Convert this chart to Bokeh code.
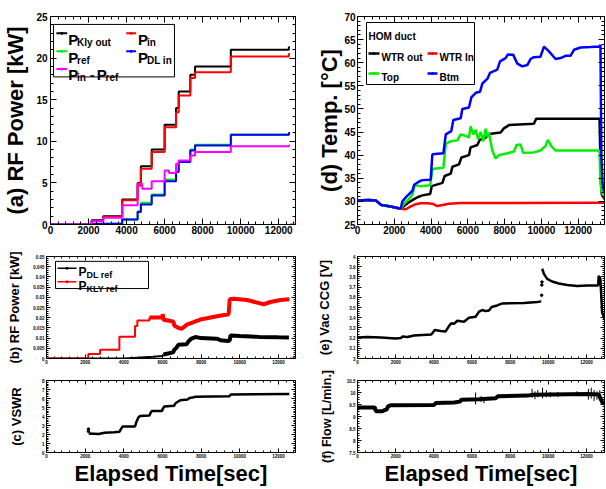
from bokeh.plotting import figure
from bokeh.layouts import row, column
from bokeh.models import LinearAxis, FixedTicker, Range1d
from bokeh.embed import file_html
from bokeh.resources import INLINE
from bokeh.core.properties import value

FONT = "Liberation Sans"

# ---------------- data ----------------
X_TICKS = [0, 2000, 4000, 6000, 8000, 10000, 12000]

# (a) RF power, step series [kW]
A_T = [0, 2160, 2770, 3770, 4580, 4750, 5320, 6000, 6600, 6740, 7350, 7600, 9480, 12530, 12590]
A_KLY = [0, 0.5, 1.0, 3.0, 5.0, 7.0, 9.0, 12.0, 14.0, 16.0, 18.0, 19.0, 21.0, 21.3, 21.3]
A_PIN = [0, 0.4, 0.9, 2.9, 4.7, 6.7, 8.7, 11.7, 13.5, 15.5, 17.6, 18.3, 20.2, 20.5, 20.5]
A_PREF = [0, 0.05, 0.1, 0.6, 1.6, 2.6, 3.6, 5.4, 6.4, 7.6, 9.0, 9.6, 10.8, 11.0, 11.0]
A_PDL = [0, 0.05, 0.1, 0.6, 1.5, 2.4, 3.5, 5.2, 6.3, 7.5, 8.9, 9.5, 10.8, 11.0, 11.0]
A_TD = [0, 2160, 2770, 3770, 4580, 4820, 5320, 6000, 6230, 6600, 6740, 7350, 7600, 9480, 12530, 12590]
A_DIFF = [0, 0.4, 0.8, 2.3, 4.9, 4.3, 5.2, 6.5, 6.2, 7.3, 7.7, 8.3, 8.7, 9.4, 9.5, 9.5]
A_OFF_T = [12600, 12880]   # RF off: all power readings back at zero
A_OFF = [0, 0]
A_YTICKS = [0, 5, 10, 15, 20, 25]

# (b) reflected power [kW]
B_KLY_T = [0, 2160, 2770, 3770, 4580, 4700, 5320]
B_KLY_S = [0, 0.0022, 0.0043, 0.0107, 0.0159, 0.0186, 0.0201]
B_KLY_X = [5320, 6000, 6010, 6050, 6300, 6570, 6605, 6830, 7000, 7262, 7608, 7953, 8299, 8818,
           9423, 9475, 9682, 10374, 10893, 11239, 11584, 12103, 12560]
B_KLY_Y = [0.0201, 0.0201, 0.0218, 0.0190, 0.0186, 0.0180, 0.0162, 0.0150, 0.0146, 0.0166, 0.0178,
           0.0191, 0.0197, 0.0207, 0.0217, 0.0290, 0.0293, 0.0287, 0.0274, 0.0266, 0.0277, 0.0287,
           0.0290]
B_OFF_X = [12600, 12880]
B_OFF = [0, 0]
B_DL_X1 = [0, 4000, 4500, 5500, 6000, 6050]
B_DL_Y1 = [0, 0, 0.0003, 0.0008, 0.0012, 0.002]
B_DL_X2 = [6050, 6550, 6620, 6700, 6830, 7250, 7350, 7500, 7700, 8000, 8800, 9000, 9400, 9480,
           9520, 10000, 11000, 12000, 12540]
B_DL_Y2 = [0.002, 0.003, 0.0045, 0.005, 0.0068, 0.007, 0.0085, 0.0098, 0.0105, 0.0100, 0.0097,
           0.0090, 0.0086, 0.0090, 0.0113, 0.0110, 0.0106, 0.0104, 0.0103]
B_YTICKS = [0, 0.005, 0.01, 0.015, 0.02, 0.025, 0.03, 0.035, 0.04, 0.045, 0.05]
B_YLABELS = ["0", "0.005", "0.01", "0.015", "0.02", "0.025", "0.03", "0.035", "0.04", "0.045", "0.05"]

# (c) VSWR
C_DOT_X = [2170, 2170]
C_DOT_Y = [2.6, 2.35]
C_X = [2180, 2700, 3000, 3500, 3770, 3850, 3940, 4580, 4650, 4750, 4840, 5325, 5380, 5450, 5965,
       6030, 6085, 6605, 6650, 6690, 6915, 7300, 7400, 7550, 7700, 9450, 9550, 12560]
C_Y = [2.1, 2.05, 2.2, 2.25, 2.3, 2.6, 2.9, 2.9, 3.4, 3.9, 4.05, 4.1, 4.4, 4.6, 4.6, 4.9, 5.1,
       5.2, 5.4, 5.5, 5.8, 5.9, 6.05, 6.1, 6.2, 6.25, 6.45, 6.5]
C_YTICKS = [0, 1, 2, 3, 4, 5, 6, 7, 8]

# (d) HOM duct temperatures [degC]
D_X_OUT = [0, 600, 1000, 1300, 1800, 2350, 2530, 2800, 3080, 3260, 3530, 3950, 4040, 4620, 4740,
           5070, 5160, 5520, 5650, 6060, 6150, 6520, 6640, 6970, 7150, 7780, 7960, 8240, 9590,
           9720, 13160, 13230, 13280, 13430]
D_OUT = [30.2, 30.3, 30.2, 29.2, 28.9, 28.4, 29.0, 29.8, 30.5, 30.9, 31.3, 31.6, 33.3, 34.0, 35.5,
         36.0, 37.5, 38.0, 39.5, 40.0, 41.7, 42.2, 43.3, 43.8, 44.6, 44.9, 45.8, 46.5, 46.8, 47.9,
         47.9, 35.0, 31.5, 30.5]
D_X_IN = [0, 600, 1000, 1300, 1800, 2350, 2620, 2900, 3170, 3440, 3800, 4070, 4340, 4620, 4980,
          5610, 13430]
D_IN = [30.2, 30.3, 30.2, 29.2, 28.9, 28.4, 28.3, 28.9, 29.4, 29.6, 29.6, 29.5, 29.0, 29.2, 29.5,
        29.65, 29.7]
D_X_TOP = [0, 600, 1000, 1300, 1800, 2350, 2530, 2800, 2990, 3110, 3440, 3950, 4070, 4670, 4800,
           5070, 5430, 5610, 5880, 6060, 6150, 6300, 6430, 6550, 6700, 6840, 6970, 7060, 7150,
           7330, 7510, 7690, 8150, 8510, 8650, 8870, 9010, 9590, 9950, 10230, 10350, 10530,
           10770, 11400, 13160, 13210, 13260, 13320, 13430]
D_TOP = [30.2, 30.3, 30.2, 29.2, 28.9, 28.4, 29.5, 30.5, 31.5, 33.5, 33.3, 33.5, 37.0, 37.3, 42.5,
         43.0, 43.2, 44.5, 44.2, 43.8, 46.2, 44.5, 45.5, 43.5, 45.0, 43.0, 45.7, 44.0, 44.8, 41.0,
         39.3, 40.0, 40.4, 40.8, 42.2, 42.3, 40.5, 40.6, 41.0, 42.0, 43.3, 42.0, 41.0, 41.0, 41.0,
         34.0, 32.5, 31.6, 30.9]
D_X_BTM = [0, 600, 1000, 1300, 1800, 2350, 2440, 2700, 2990, 3080, 3350, 3530, 3980, 4070, 4670,
           4800, 5100, 5210, 5610, 5700, 6060, 6190, 6430, 6660, 6790, 7060, 7200, 7600, 7750,
           8050, 8180, 8470, 8690, 8960, 9230, 9410, 9590, 9950, 10140, 10400, 10770, 11040,
           11310, 11580, 11770, 12130, 12670, 13160, 13210, 13260, 13320, 13430]
D_BTM = [30.2, 30.3, 30.2, 29.2, 28.9, 28.4, 30.0, 31.2, 32.3, 33.6, 34.3, 34.6, 34.7, 40.2, 40.4,
         44.5, 45.2, 47.6, 48.0, 50.0, 50.3, 52.5, 53.5, 53.7, 55.5, 56.5, 57.8, 58.5, 60.3, 61.0,
         61.8, 61.7, 59.8, 59.2, 59.5, 60.8, 61.2, 61.3, 63.5, 62.5, 60.8, 61.0, 61.5, 61.5, 62.8,
         63.3, 63.4, 63.5, 63.9, 40.0, 34.0, 31.8]
D_YTICKS = [25, 30, 35, 40, 45, 50, 55, 60, 65, 70]

# (e) vacuum CCG [V]
E_X1 = [0, 520, 1220, 2000, 2270, 2350, 2620, 2960, 3400, 3870, 4050, 4360, 4620, 4800, 4920,
        5060, 5230, 5580, 5840, 6190, 6370, 6540, 6710, 6890, 7030, 7320, 7590, 8720, 9420, 9630]
E_Y1 = [3.205, 3.21, 3.205, 3.195, 3.20, 3.215, 3.21, 3.225, 3.23, 3.235, 3.28, 3.27, 3.265, 3.32,
        3.345, 3.34, 3.37, 3.36, 3.40, 3.41, 3.46, 3.475, 3.465, 3.47, 3.505, 3.52, 3.54, 3.545,
        3.555, 3.56]
E_DOT_X = [9650, 9660, 9670]
E_DOT_Y = [3.62, 3.72, 3.75]
E_X2 = [9680, 9770, 9940, 10200, 10550, 10990, 11510, 12030, 12610, 12640, 12730, 12820, 12945]
E_Y2 = [3.88, 3.83, 3.78, 3.755, 3.735, 3.72, 3.71, 3.715, 3.715, 3.81, 3.78, 3.45, 3.39]
E_YTICKS = [3.0, 3.1, 3.2, 3.3, 3.4, 3.5, 3.6, 3.7, 3.8, 3.9, 4.0]
E_YLABELS = ["3", "3.1", "3.2", "3.3", "3.4", "3.5", "3.6", "3.7", "3.8", "3.9", "4"]

# (f) cooling water flow [L/min]
F_X = [0, 907, 960, 1310, 1400, 1530, 1600, 1740, 4010, 4100, 5060, 5370, 5440, 6370, 6800,
       7240, 7360, 8890, 9240, 12030, 12640, 12820, 12945]
F_Y = [9.38, 9.38, 9.22, 9.22, 9.26, 9.30, 9.42, 9.47, 9.48, 9.56, 9.58, 9.62, 9.70, 9.72, 9.74,
       9.76, 9.84, 9.87, 9.91, 9.94, 9.92, 9.60, 9.55]
F_SPX = [6190, 6480, 6630, 9150, 9300, 9450, 9700, 9900, 10100, 10500, 11500, 12100, 12250,
         12400, 12550, 12700]
F_SPLO = [9.50, 9.60, 9.55, 9.78, 9.72, 9.80, 9.75, 9.80, 9.80, 9.82, 9.86, 9.70, 9.75, 9.65,
          9.70, 9.72]
F_SPHI = [10.0, 9.85, 9.80, 10.15, 10.05, 10.10, 10.2, 10.10, 10.02, 10.02, 10.05, 10.15, 10.2,
          10.10, 10.05, 10.10]
F_YTICKS = [7.5, 8.0, 8.5, 9.0, 9.5, 10.0, 10.5]
F_YLABELS = ["7.5", "8", "8.5", "9", "9.5", "10", "10.5"]

# ---------------- layout geometry (page pixels) ----------------
FA = dict(l=46, t=16, w=249, h=210, xr=(0, 12880), yr=(0, 25))
FD = dict(l=357, t=16, w=247, h=208, xr=(0, 13430), yr=(25, 70))
FB = dict(l=46, t=256, w=249, h=105, xr=(0, 12880), yr=(0, 0.05))
FE = dict(l=357, t=256, w=247, h=102, xr=(0, 12945), yr=(3.0, 4.0))
FC = dict(l=46, t=379, w=249, h=77, xr=(0, 12880), yr=(0, 8))
FF = dict(l=357, t=380, w=247, h=76, xr=(0, 12945), yr=(7.5, 10.5))


def grid_ticks(a, b, step):
    n = int(round((b - a) / step))
    return [round(a + i * step, 6) for i in range(n + 1)]


def to_data(fr, px, py):
    x0, x1 = fr["xr"]
    y0, y1 = fr["yr"]
    return (x0 + (px - fr["l"]) / fr["w"] * (x1 - x0),
            y1 - (py - fr["t"]) / fr["h"] * (y1 - y0))


def style_axis(ax, ticks, minors, size, maj, mnr, standoff, overrides=None, hidden=False):
    ax.ticker = FixedTicker(ticks=ticks, minor_ticks=minors)
    ax.axis_line_color = "black"
    ax.axis_line_width = 1
    ax.major_tick_in = maj
    ax.major_tick_out = 0
    ax.minor_tick_in = mnr
    ax.minor_tick_out = 0
    ax.major_tick_line_color = "black"
    ax.minor_tick_line_color = "black"
    ax.major_label_text_font = FONT
    ax.major_label_text_font_style = "bold"
    ax.major_label_text_font_size = size
    ax.major_label_text_color = None if hidden else "black"
    ax.major_label_standoff = standoff
    if overrides:
        ax.major_label_overrides = overrides


def make(fr, W, H, bl, br, bt, bb, yticks, ystep_minor, tsize, maj, mnr,
         ylabel, ylsize, ylstand, ylabels=None, xlabel=None, xlstand=0, xstand=1, ystand=2):
    p = figure(width=W, height=H, x_range=Range1d(*fr["xr"]), y_range=Range1d(*fr["yr"]),
               output_backend="svg", toolbar_location=None,
               min_border_left=bl, min_border_right=br, min_border_top=bt, min_border_bottom=bb)
    p.xgrid.visible = False
    p.ygrid.visible = False
    p.outline_line_color = "black"
    p.outline_line_width = 1
    p.background_fill_color = "white"
    p.border_fill_color = "white"
    xminor = grid_ticks(fr["xr"][0], fr["xr"][1] - 1, 400)
    yminor = grid_ticks(fr["yr"][0], fr["yr"][1], ystep_minor)
    ov = dict(zip(yticks, ylabels)) if ylabels else None
    style_axis(p.xaxis[0], X_TICKS, xminor, tsize, maj, mnr, xstand)
    style_axis(p.yaxis[0], yticks, yminor, tsize, maj, mnr, ystand, ov)
    ya = p.yaxis[0]
    ya.axis_label = ylabel
    ya.axis_label_text_font = FONT
    ya.axis_label_text_font_style = "bold"
    ya.axis_label_text_font_size = ylsize
    ya.axis_label_text_color = "black"
    ya.axis_label_standoff = ylstand
    if xlabel:
        xa = p.xaxis[0]
        xa.axis_label = xlabel
        xa.axis_label_text_font = FONT
        xa.axis_label_text_font_style = "bold"
        xa.axis_label_text_font_size = "22px"
        xa.axis_label_text_color = "black"
        xa.axis_label_standoff = xlstand
    top = LinearAxis()
    style_axis(top, X_TICKS, xminor, "1px", maj, mnr, 0, hidden=True)
    p.add_layout(top, "above")
    right = LinearAxis()
    style_axis(right, yticks, yminor, "1px", maj, mnr, 0, hidden=True)
    p.add_layout(right, "right")
    return p


def leg_box(p, fr, l, t, r, b):
    x0, y0 = to_data(fr, l, t)
    x1, y1 = to_data(fr, r, b)
    p.quad(left=[x0], right=[x1], top=[y0], bottom=[y1], fill_color="white",
           line_color="black", line_width=1)


def leg_line(p, fr, l, r, y, color, width=2):
    x0, yy = to_data(fr, l, y)
    x1, _ = to_data(fr, r, y)
    p.line([x0, x1], [yy, yy], line_color=color, line_width=width)
    p.scatter([(x0 + x1) / 2], [yy], size=3, fill_color=color, line_color=None)


def leg_text(p, fr, x, y, txt, size):
    xx, yy = to_data(fr, x, y)
    p.text([xx], [yy], text=[txt], text_font=value(FONT), text_font_style="bold",
           text_font_size=size, text_baseline="alphabetic", text_align="left",
           text_color="black")


# ---------------- (a) ----------------
pa = make(FA, 308, 240, 46, 13, 16, 14, A_YTICKS, 1, "10px", 6, 3,
          "(a) RF Power [kW]", "22px", 5, ystand=3)
pa.step(A_T, A_KLY, mode="after", line_color="black", line_width=2)
pa.step(A_T, A_PIN, mode="after", line_color="#ff0000", line_width=2)
pa.step(A_T, A_PREF, mode="after", line_color="#00ee00", line_width=2)
pa.step(A_T, A_PDL, mode="after", line_color="#0000ff", line_width=2)
pa.step(A_TD, A_DIFF, mode="after", line_color="#ff00ff", line_width=2)
pa.line(A_OFF_T, A_OFF, line_color="#ff00ff", line_width=2)
leg_box(pa, FA, 49, 24, 172, 77)
leg_line(pa, FA, 52, 63, 33, "black")
leg_line(pa, FA, 123, 133, 33, "#ff0000")
leg_line(pa, FA, 52, 63, 51, "#00ee00")
leg_line(pa, FA, 123, 133, 51, "#0000ff")
leg_line(pa, FA, 52, 63, 69, "#ff00ff")
leg_text(pa, FA, 64, 39, "P", "15px")
leg_text(pa, FA, 73, 42, "Kly out", "10px")
leg_text(pa, FA, 135, 39, "P", "15px")
leg_text(pa, FA, 144, 42, "in", "10px")
leg_text(pa, FA, 64, 57, "P", "15px")
leg_text(pa, FA, 73, 60, "ref", "10px")
leg_text(pa, FA, 135, 57, "P", "15px")
leg_text(pa, FA, 144, 60, "DL in", "10px")
leg_text(pa, FA, 64, 75, "P", "15px")
leg_text(pa, FA, 73, 78, "in", "10px")
leg_text(pa, FA, 86, 75, "-", "15px")
leg_text(pa, FA, 93, 75, "P", "15px")
leg_text(pa, FA, 102, 78, "ref", "10px")

# ---------------- (d) ----------------
pd = make(FD, 297, 240, 49, 1, 16, 16, D_YTICKS, 1, "10px", 6, 3,
          "(d) Temp. [°C]", "22px", -1)
pd.line(D_X_OUT, D_OUT, line_color="black", line_width=2.5)
pd.line(D_X_IN, D_IN, line_color="#ff0000", line_width=2.5)
pd.line(D_X_TOP, D_TOP, line_color="#00ee00", line_width=2.5)
pd.line(D_X_BTM, D_BTM, line_color="#0000ff", line_width=2.5)
leg_box(pd, FD, 366, 22, 474, 84)
leg_text(pd, FD, 368, 36, "HOM duct", "10px")
leg_line(pd, FD, 368, 379, 53, "black", 2.5)
leg_text(pd, FD, 381, 57, "WTR out", "10px")
leg_line(pd, FD, 427, 437, 53, "#ff0000", 2.5)
leg_text(pd, FD, 439, 57, "WTR In", "10px")
leg_line(pd, FD, 368, 379, 73, "#00ee00", 2.5)
leg_text(pd, FD, 381, 77, "Top", "10px")
leg_line(pd, FD, 427, 437, 73, "#0000ff", 2.5)
leg_text(pd, FD, 439, 77, "Btm", "10px")

# ---------------- (b) ----------------
pb = make(FB, 308, 130, 46, 13, 16, 9, B_YTICKS, 0.001, "4.5px", 4, 2,
          "(b) RF Power [kW]", "13px", 8, ylabels=B_YLABELS)
pb.line(B_DL_X1, B_DL_Y1, line_color="black", line_width=2)
pb.line(B_DL_X2, B_DL_Y2, line_color="black", line_width=4)
pb.step(B_KLY_T, B_KLY_S, mode="after", line_color="#ff0000", line_width=2)
pb.line(B_KLY_X, B_KLY_Y, line_color="#ff0000", line_width=4)
pb.line(B_OFF_X, B_OFF, line_color="#ff0000", line_width=2)
leg_box(pb, FB, 55, 261, 148, 289)
leg_line(pb, FB, 57, 76, 268, "black", 1.5)
leg_text(pb, FB, 78, 272, "P", "12px")
leg_text(pb, FB, 86, 275, "DL ref", "9px")
leg_line(pb, FB, 57, 76, 282, "#ff0000", 1.5)
leg_text(pb, FB, 78, 286, "P", "12px")
leg_text(pb, FB, 86, 289, "KLY ref", "9px")

# ---------------- (e) ----------------
pe = make(FE, 297, 130, 49, 1, 16, 12, E_YTICKS, 0.02, "4.5px", 4, 2,
          "(e) Vac CCG [V]", "13px", 14, ylabels=E_YLABELS)
pe.line(E_X1, E_Y1, line_color="black", line_width=2.5)
pe.scatter(E_DOT_X, E_DOT_Y, size=2.5, color="black")
pe.line(E_X2, E_Y2, line_color="black", line_width=2.5)

# ---------------- (c) ----------------
pc = make(FC, 308, 118, 46, 13, 9, 32, C_YTICKS, 0.2, "4.5px", 4, 2,
          "(c) VSWR", "13px", 15, xlabel="Elapsed Time[sec]", xlstand=0)
pc.scatter(C_DOT_X, C_DOT_Y, size=2.5, color="black")
pc.line(C_X, C_Y, line_color="black", line_width=2.5)

# ---------------- (f) ----------------
pf = make(FF, 297, 118, 49, 1, 10, 32, F_YTICKS, 0.1, "4.5px", 4, 2,
          "(f) Flow [L/min.]", "12.5px", 10, ylabels=F_YLABELS,
          xlabel="Elapsed Time[sec]", xlstand=0)
pf.segment(x0=F_SPX, y0=F_SPLO, x1=F_SPX, y1=F_SPHI, line_color="black", line_width=1)
pf.line(F_X, F_Y, line_color="black", line_width=4)

layout = column(row(pa, pd), row(pb, pe), row(pc, pf))
open("out.html", "w").write(file_html(layout, INLINE))
